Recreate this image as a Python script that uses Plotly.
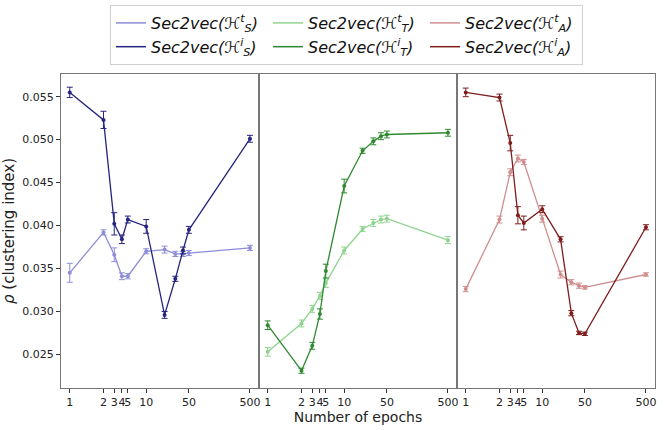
import plotly.graph_objects as go
from plotly.subplots import make_subplots

# ---- data ----
epoch_pos = [0.56, 2, 3, 4, 5, 10, 20, 30, 40, 50, 500]
tick_vals = [0.56, 2, 3, 4, 5, 10, 50, 500]
tick_text = ["1", "2", "3", "4", "5", "10", "50", "500"]

S_t = [0.0345, 0.0392, 0.0366, 0.0341, 0.0341, 0.0370, 0.0372, 0.0367, 0.0367, 0.0368, 0.0374]
S_t_err = [0.0011, 0.0003, 0.0008, 0.0004, 0.0003, 0.0003, 0.0004, 0.0003, 0.0003, 0.0003, 0.0003]
S_i = [0.0555, 0.0523, 0.0402, 0.0384, 0.0407, 0.0399, 0.0296, 0.0338, 0.0371, 0.0395, 0.0501]
S_i_err = [0.0006, 0.0010, 0.0013, 0.0005, 0.0004, 0.0008, 0.0004, 0.0003, 0.0004, 0.0004, 0.0004]

T_t = [0.0253, 0.0286, 0.0303, 0.0318, 0.0333, 0.0371, 0.0396, 0.0403, 0.0407, 0.0408, 0.0383]
T_t_err = [0.0005, 0.0004, 0.0004, 0.0004, 0.0005, 0.0004, 0.0003, 0.0004, 0.0004, 0.0004, 0.0004]
T_i = [0.0284, 0.0231, 0.0260, 0.0297, 0.0347, 0.0446, 0.0487, 0.0498, 0.0504, 0.0506, 0.0508]
T_i_err = [0.0005, 0.0003, 0.0004, 0.0006, 0.0008, 0.0008, 0.0003, 0.0004, 0.0004, 0.0004, 0.0004]

A_t = [0.0326, 0.0407, 0.0462, 0.0478, 0.0474, 0.0408, 0.0343, 0.0334, 0.0330, 0.0328, 0.0343]
A_t_err = [0.0003, 0.0004, 0.0004, 0.0004, 0.0003, 0.0004, 0.0004, 0.0003, 0.0003, 0.0002, 0.0002]
A_i = [0.0555, 0.0549, 0.0496, 0.0412, 0.0403, 0.0419, 0.0384, 0.0298, 0.0275, 0.0274, 0.0398]
A_i_err = [0.0005, 0.0004, 0.0009, 0.0010, 0.0008, 0.0004, 0.0003, 0.0003, 0.0002, 0.0002, 0.0003]

names = {
    "S_t": "<i>Sec2vec(ℋ<sup>t</sup><sub>S</sub>)</i>",
    "S_i": "<i>Sec2vec(ℋ<sup>i</sup><sub>S</sub>)</i>",
    "T_t": "<i>Sec2vec(ℋ<sup>t</sup><sub>T</sub>)</i>",
    "T_i": "<i>Sec2vec(ℋ<sup>i</sup><sub>T</sub>)</i>",
    "A_t": "<i>Sec2vec(ℋ<sup>t</sup><sub>A</sub>)</i>",
    "A_i": "<i>Sec2vec(ℋ<sup>i</sup><sub>A</sub>)</i>",
}
colors = {
    "S_t": "#8d8dd8", "S_i": "#25257f",
    "T_t": "#8fd38f", "T_i": "#2f8a2f",
    "A_t": "#d08e8e", "A_i": "#7f1d1d",
}

panels = [
    (1, [("S_t", S_t, S_t_err), ("S_i", S_i, S_i_err)]),
    (2, [("T_t", T_t, T_t_err), ("T_i", T_i, T_i_err)]),
    (3, [("A_t", A_t, A_t_err), ("A_i", A_i, A_i_err)]),
]

fig = make_subplots(rows=1, cols=3, shared_yaxes=True, horizontal_spacing=0)

for col, series in panels:
    for key, vals, err in series:
        fig.add_trace(go.Scatter(
            x=epoch_pos, y=vals, mode="lines+markers",
            line=dict(color=colors[key], width=1.3),
            marker=dict(color=colors[key], size=4),
            error_y=dict(type="data", array=err, color=colors[key], thickness=1, width=3),
            showlegend=False, hoverinfo="skip"), row=1, col=col)

# legend entries (lines only), ordered row-wise: t row then i row
for key in ["S_t", "T_t", "A_t", "S_i", "T_i", "A_i"]:
    fig.add_trace(go.Scatter(x=[1], y=[None], mode="lines",
                             line=dict(color=colors[key], width=1.5),
                             name=names[key], showlegend=True), row=1, col=1)

axis_common = dict(
    type="log", range=[-0.395, 2.847], automargin=False,
    tickvals=tick_vals, ticktext=tick_text, tickangle=0,
    ticks="outside", ticklen=4, tickcolor="#333",
    showline=True, linecolor="#777", linewidth=1, mirror=True,
    showgrid=False, zeroline=False,
    tickfont=dict(family="DejaVu Sans", size=11, color="#222"),
)
fig.update_xaxes(**axis_common)
fig.update_xaxes(title=dict(text="Number of epochs", font=dict(family="DejaVu Sans", size=14, color="#222"), standoff=0), row=1, col=2)

fig.update_yaxes(range=[0.02109, 0.05764], showline=True, linecolor="#777", linewidth=1,
                 mirror=True, showgrid=False, zeroline=False, automargin=False)
fig.update_yaxes(tickvals=[0.025, 0.030, 0.035, 0.040, 0.045, 0.050, 0.055],
                 ticktext=["0.025", "0.030", "0.035", "0.040", "0.045", "0.050", "0.055"],
                 ticks="outside", ticklen=4, tickcolor="#333",
                 tickfont=dict(family="DejaVu Sans", size=11, color="#222"),
                 title=dict(text="<i>ρ</i> (clustering index)",
                            font=dict(family="DejaVu Sans", size=15, color="#222"), standoff=6),
                 row=1, col=1)
fig.update_yaxes(showticklabels=False, ticks="", row=1, col=2)
fig.update_yaxes(showticklabels=False, ticks="", row=1, col=3)

fig.update_layout(
    width=666, height=430,
    margin=dict(l=61, r=11, t=74, b=42, autoexpand=False),
    paper_bgcolor="white", plot_bgcolor="white",
    legend=dict(orientation="h", x=0.0825, xanchor="left", y=1.0287, yanchor="bottom",
                entrywidth=112, entrywidthmode="pixels",
                font=dict(family="DejaVu Sans", size=16, color="#111"),
                bordercolor="#d0d0d0", borderwidth=1, bgcolor="white",
                itemwidth=30, tracegroupgap=0),
)

fig.write_html("out.html", config={"displayModeBar": False},
               post_script="document.body.style.margin='0';document.body.style.padding='0';")
